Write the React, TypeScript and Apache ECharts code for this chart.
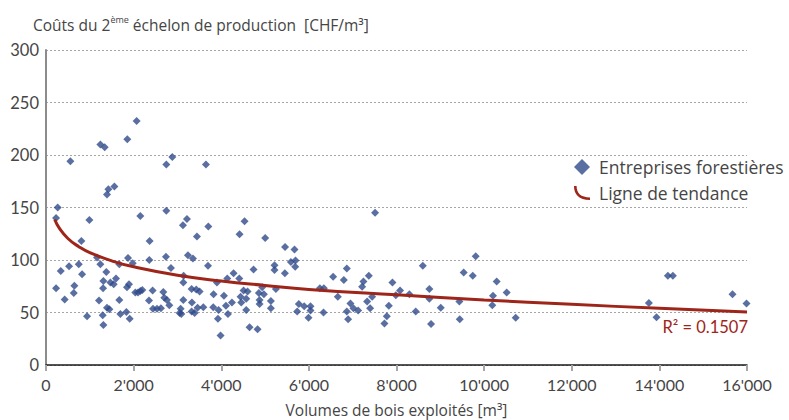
import React, { useEffect, useRef } from "react";
import * as echarts from "echarts";

// Volumes de bois exploités [m³] (x) and Coûts [CHF/m³] (y)
const volumes = [
  230, 267, 556, 807, 990, 1241, 1339, 1393, 1423, 1560, 1856, 2069, 2153, 2365, 2746, 2746, 2883, 3126, 3217, 3445,
  3651, 3704, 4418, 4532, 5003, 7510, 5456, 5672,
  230, 336, 427, 526, 633, 648, 747, 823, 937, 1165, 1210, 1241, 1294, 1302, 1309, 1309, 1377, 1393, 1446, 1469,
  1545, 1598, 1674, 1674, 1697, 1834, 1849, 1872, 1895, 1910, 1978, 2039, 2100, 2153, 2198, 2358, 2351, 2434, 2442, 2533,
  2624, 2677, 2700, 2738, 2761, 2814, 2852, 3050, 3073, 3088, 3134, 3141, 3134, 3240, 3331, 3324, 3354, 3324, 3392, 3430,
  3460, 3506, 3590, 3697, 3818, 3825, 3901, 3924, 3939, 3985, 4061, 4107, 4137, 4152, 4244, 4281, 4411, 4441, 4456, 4509,
  4570, 4600, 4646, 4737, 4829, 4859, 4874, 4874, 4935, 4973, 4570,
  5132, 5132, 5216, 5216, 5247, 5452, 5589, 5695, 5688, 5733, 5771, 5893, 5991, 6037, 6037, 6251, 6342, 6334, 6554, 6661,
  6798, 6866, 6866, 6896, 6949, 7017, 7124, 7216, 7246, 7330, 7368, 7398, 7444, 7724, 7779, 7824, 7907, 7984, 8082, 8294,
  8440, 8600, 8751, 8751, 8789, 9010, 9435, 9443, 9534, 9740, 9808, 10187, 10203, 10287, 10515, 10721,
  13761, 13935, 14194, 14308, 15669, 15988,
];
const costs = [
  140, 150, 194, 118, 138, 210, 207.5, 162.5, 167.5, 170, 215, 232.5, 142, 118, 191, 147, 198, 133, 139, 122.5,
  191, 132, 124.5, 137, 121, 145, 112.5, 110,
  73, 89.5, 62.5, 94, 68.5, 75.5, 96, 86.5, 46.5, 102.5, 61.5, 96, 47.5, 73, 38, 80, 88.5, 54.5, 53, 78.5,
  77, 82.5, 96, 62, 48.5, 50.5, 74, 102, 77, 44, 97, 69, 69, 70.5, 71.5, 100, 61.5, 71, 53.5, 53.5,
  54, 69.5, 64, 103, 62, 57, 92.5, 49.5, 53.5, 48.5, 78.5, 85, 62, 104.5, 59.5, 72.5, 101.5, 51, 49.5, 72,
  54.5, 70, 55, 94.5, 55, 67.5, 78.5, 44, 52.5, 28, 66, 56.5, 82.5, 48.5, 59.5, 87.5, 82.5, 65, 59.5, 71,
  52.5, 70, 36, 91, 34, 68.5, 62, 58, 74, 67.5, 63,
  61, 54, 95, 90.5, 72.5, 87.5, 98, 99.5, 93.5, 51, 58, 56, 45, 56, 52, 73, 73, 50, 84, 65,
  81, 92, 51, 43.5, 58.5, 54, 52, 74.5, 79.5, 60.5, 85, 54, 65, 39.5, 46.5, 56.5, 78.5, 66.5, 71, 67.5,
  51, 94.5, 72.5, 63, 39, 54.5, 60.5, 43.5, 88, 85, 103.5, 57, 66, 79.5, 69, 45,
  59, 45.5, 85, 85, 67.5, 58.5,
];
// Trend line (logarithmic) at these volumes
const trendVolumes = [200, 300, 500, 750, 1000, 1500, 2000, 3000, 4000, 5000, 6000, 8000, 10000, 12000, 14000, 16000];
const trendCosts = [138.5, 130.5, 120.5, 112.7, 107, 99.2, 93.5, 85.5, 80, 75.8, 72, 66.8, 62, 57.8, 54, 50.5];
const seriesNames = ["Entreprises forestières", "Ligne de tendance"];
const r2Label = "R² = 0.1507";

const TEXT_FONT = "'Open Sans', Lato, sans-serif";
const NUM_FONT = "Lato, 'Open Sans', sans-serif";
const TXT = "#454545";
const BLUE = "#2f4a8a";
const RED = "#9e2519";

const fmtThousands = (v: number) => String(v).replace(/\B(?=(\d{3})+(?!\d))/g, "'");

export default function App() {
  const ref = useRef<HTMLDivElement>(null);
  useEffect(() => {
    if (!ref.current) return;
    const chart = echarts.init(ref.current, null, { renderer: "svg" });
    const scatterData = volumes.map((v, i) => [v, costs[i]]);
    const trendData = trendVolumes.map((v, i) => [v, trendCosts[i]]);
    chart.setOption({
      animation: false,
      textStyle: { fontFamily: TEXT_FONT },
      title: {
        left: 28,
        top: 10,
        padding: 5,
        text: "{a|Coûts du 2}{s|ème}{a| échelon de production  [CHF/m³]}",
        textStyle: {
          fontWeight: "normal",
          rich: {
            a: { fontFamily: TEXT_FONT, fontSize: 15.5, fontWeight: "normal", color: TXT, lineHeight: 20 },
            s: { fontFamily: TEXT_FONT, fontSize: 9, fontWeight: "normal", color: TXT, lineHeight: 20, verticalAlign: "top", padding: [0, 0, 7, 0] },
          },
        },
      },
      legend: {
        orient: "vertical",
        left: 569,
        top: 153,
        itemWidth: 16,
        itemHeight: 16,
        itemGap: 8,
        textStyle: { fontFamily: TEXT_FONT, fontSize: 17.5, color: TXT, padding: [0, 0, 0, 4] },
        data: [
          { name: seriesNames[0], icon: "diamond" },
          { name: seriesNames[1], icon: "path://M0,0 C0,7 4,11 13,11 L13,13.5 C2,13.5 -2.5,8 -2.5,0 Z" },
        ],
      },
      grid: { left: 46, right: 42, top: 50, bottom: 55, containLabel: false, outerBoundsMode: "none" },
      xAxis: {
        type: "value",
        min: 0,
        max: 16000,
        interval: 2000,
        name: "Volumes de bois exploités [m³]",
        nameLocation: "middle",
        nameGap: 37,
        nameTextStyle: { fontFamily: TEXT_FONT, fontSize: 15.5, color: TXT },
        axisLine: { show: true, lineStyle: { color: "#1a1a1a", width: 1.5 } },
        axisTick: { show: true, length: 6, lineStyle: { color: "#a6a6a6", width: 2 } },
        axisLabel: {
          fontFamily: NUM_FONT,
          fontSize: 16,
          color: TXT,
          margin: 11,
          formatter: (v: number) => fmtThousands(v),
        },
        splitLine: { show: false },
      },
      yAxis: {
        type: "value",
        min: 0,
        max: 300,
        interval: 50,
        axisLine: { show: true, lineStyle: { color: "#8c8c8c", width: 2 } },
        axisTick: { show: false },
        axisLabel: { fontFamily: NUM_FONT, fontSize: 16.5, color: TXT, margin: 7 },
        splitLine: { show: true, lineStyle: { color: "#a6a6a6", type: [2, 2], width: 1 } },
      },
      series: [
        {
          name: seriesNames[0],
          type: "scatter",
          symbol: "diamond",
          symbolSize: 8,
          itemStyle: { color: BLUE },
          data: scatterData,
          z: 2,
        },
        {
          name: seriesNames[1],
          type: "line",
          showSymbol: false,
          symbol: "none",
          smooth: 0.5,
          lineStyle: { color: RED, width: 3 },
          itemStyle: { color: RED },
          data: trendData,
          z: 3,
        },
      ],
      graphic: [
        {
          type: "text",
          right: 41,
          top: 318,
          style: { text: r2Label, fontFamily: NUM_FONT, fontSize: 16.5, fill: RED },
        },
      ],
    });
    return () => chart.dispose();
  }, []);
  return <div ref={ref} style={{ width: 789, height: 420, position: "absolute", left: 0, top: 0 }} />;
}
